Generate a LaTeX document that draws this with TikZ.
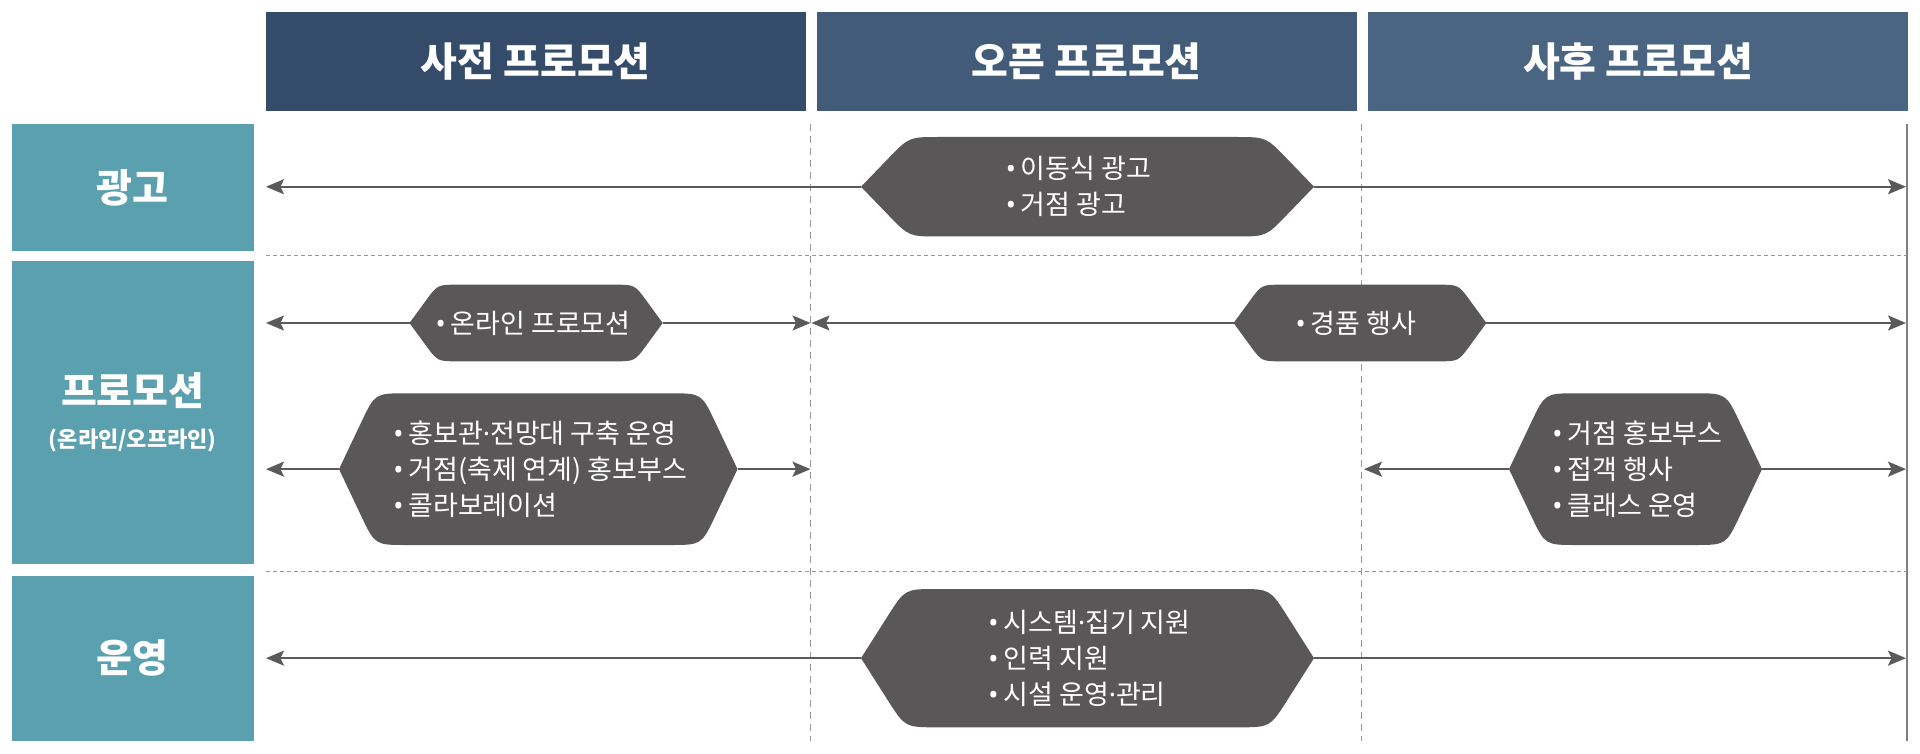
\documentclass[tikz,border=0pt]{standalone}
\usepackage{fontspec}
\setmainfont{Noto Sans CJK KR}
\newfontfamily\latinf{Noto Sans}
\usetikzlibrary{arrows.meta,calc}
\definecolor{hdrA}{RGB}{52,75,106}
\definecolor{hdrB}{RGB}{66,91,120}
\definecolor{hdrC}{RGB}{73,101,130}
\definecolor{labteal}{RGB}{91,160,175}
\definecolor{hexgray}{RGB}{89,87,88}
\definecolor{arrgray}{RGB}{90,90,90}
\definecolor{gridgray}{RGB}{150,150,150}
\newcommand\bul{{\latinf •}\hspace{2.5pt}}
\newcommand\mdot{{\latinf ·}}
\tikzset{
  hdr/.style={minimum width=270pt, minimum height=49.35pt, inner sep=0pt, text=white, font=\fontsize{20}{24}\selectfont\bfseries},
  lab/.style={fill=labteal, minimum width=120.65pt, inner sep=0pt, text=white, align=center, font=\fontsize{19.5}{23}\selectfont\bfseries},
  hexfill/.style={fill=hexgray},
  hextext/.style={text=white, align=left, inner sep=0pt, font=\fontsize{13.5}{18}\selectfont},
  arr/.style={draw=arrgray, line width=1pt, -{Stealth[length=9pt,width=7.5pt,inset=1.8pt]}},
  vdash/.style={draw=gridgray, line width=0.5pt, dash pattern=on 3.5pt off 2.5pt},
  hdash/.style={draw=gridgray, line width=0.5pt, dash pattern=on 2pt off 1.5pt},
  vsolid/.style={draw=gray, line width=0.6pt}
}
\newcommand\hexa[9]{%
  \pgfmathsetmacro\hxm{(#4+#5)/2}%
  \pgfmathsetmacro\hxa{#2+#6}%
  \pgfmathsetmacro\hxb{#3-#6}%
  \pgfmathsetmacro\hxc{(#2+#3)/2+#8}%
  \coordinate (#1L) at (#2,\hxm);
  \coordinate (#1R) at (#3,\hxm);
  \coordinate (#1a) at (\hxa,#4);
  \coordinate (#1b) at (\hxb,#4);
  \coordinate (#1c) at (\hxb,#5);
  \coordinate (#1d) at (\hxa,#5);
  \fill[hexfill] (#1L) -- ($(#1a)!#7!(#1L)$) .. controls (#1a) .. ($(#1a)!#7!(#1b)$)
     -- ($(#1b)!#7!(#1a)$) .. controls (#1b) .. ($(#1b)!#7!(#1R)$) -- (#1R)
     -- ($(#1c)!#7!(#1R)$) .. controls (#1c) .. ($(#1c)!#7!(#1d)$)
     -- ($(#1d)!#7!(#1c)$) .. controls (#1d) .. ($(#1d)!#7!(#1L)$) -- cycle;
  \node[hextext] (#1) at (\hxc,\hxm) {#9};
}
\begin{document}
\begin{tikzpicture}[x=0.5pt,y=-0.5pt]
\useasboundingbox (0,0) rectangle (1920,754);
% headers
\node[hdr, fill=hdrA] (hA) at (535.7,61.6) {사전 프로모션};
\node[hdr, fill=hdrB] (hB) at (1086.7,61.6) {오픈 프로모션};
\node[hdr, fill=hdrC] (hC) at (1638,61.6) {사후 프로모션};
% row labels
\node[lab, minimum height=63.5pt] (lA) at (132.85,187.5) {광고};
\node[lab, minimum height=151.75pt] (lB) at (132.85,412.25) {프로모션\\[-2pt]{\fontsize{11}{13}\selectfont (온라인/오프라인)}};
\node[lab, minimum height=82.5pt] (lC) at (132.85,658.2) {운영};
% grid
\coordinate (v1t) at (810.6,124); \coordinate (v1b) at (810.6,741);
\coordinate (v2t) at (1361.6,124); \coordinate (v2b) at (1361.6,741);
\coordinate (v3t) at (1907,124); \coordinate (v3b) at (1907,741);
\coordinate (g1l) at (266,255); \coordinate (g1r) at (1907,255);
\coordinate (g2l) at (266,571); \coordinate (g2r) at (1907,571);
\draw[vdash] (v1t) -- (v1b);
\draw[vdash] (v2t) -- (v2b);
\draw[vsolid] (v3t) -- (v3b);
\draw[hdash] (g1l) -- (g1r);
\draw[hdash] (g2l) -- (g2r);
% hexagons
\hexa{hx1}{861}{1314}{137}{236.5}{48}{15pt}{-9}{\bul 이동식 광고\\\bul 거점 광고}
\hexa{hx2}{409.5}{662.7}{284.7}{361.3}{28}{10pt}{-3}{\bul 온라인 프로모션}
\hexa{hx3}{339}{737.5}{393.3}{545}{36}{16pt}{2}{\bul 홍보관\mdot 전망대 구축 운영\\\bul 거점(축제 연계) 홍보부스\\\bul 콜라보레이션}
\hexa{hx4}{1233.6}{1486.4}{284.7}{361.3}{28}{10pt}{-4}{\bul 경품 행사}
\hexa{hx5}{1509}{1762}{393.3}{545}{36}{16pt}{2}{\bul 거점 홍보부스\\\bul 접객 행사\\\bul 클래스 운영}
\hexa{hx6}{861}{1314}{589}{727.3}{44}{16pt}{2}{\fontsize{13.5}{18.7}\selectfont \bul 시스템\mdot 집기 지원\\\bul 인력 지원\\\bul 시설 운영\mdot 관리}
% arrow ends
\coordinate (e1l) at (266,186.75); \coordinate (e1r) at (1906,186.75);
\coordinate (e2l) at (266,323); \coordinate (e2r) at (810.5,323);
\coordinate (e4l) at (811.5,323); \coordinate (e4r) at (1906,323);
\coordinate (e3l) at (266,469.15); \coordinate (e3r) at (810.5,469.15);
\coordinate (e5l) at (1364,469.15); \coordinate (e5r) at (1906,469.15);
\coordinate (e6l) at (266,658.15); \coordinate (e6r) at (1906,658.15);
\draw[arr] (hx1L) -- (e1l);
\draw[arr] (hx1R) -- (e1r);
\draw[arr] (hx2L) -- (e2l);
\draw[arr] (hx2R) -- (e2r);
\draw[arr] (hx4L) -- (e4l);
\draw[arr] (hx4R) -- (e4r);
\draw[arr] (hx3L) -- (e3l);
\draw[arr] (hx3R) -- (e3r);
\draw[arr] (hx5L) -- (e5l);
\draw[arr] (hx5R) -- (e5r);
\draw[arr] (hx6L) -- (e6l);
\draw[arr] (hx6R) -- (e6r);
\end{tikzpicture}
\end{document}
